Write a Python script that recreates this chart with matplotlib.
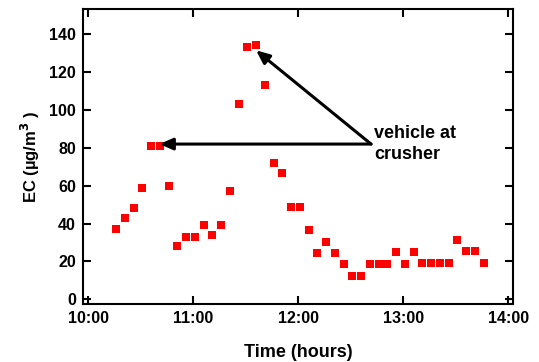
import matplotlib
matplotlib.use('Agg')
import matplotlib.pyplot as plt

plt.rcParams['font.family'] = ['Liberation Sans', 'DejaVu Sans']
plt.rcParams['font.weight'] = 'bold'

# Sample times (clock) and EC concentrations
times = ['10:16', '10:21', '10:26', '10:31', '10:36', '10:41', '10:46', '10:51',
         '10:56', '11:01', '11:06', '11:11', '11:16', '11:21', '11:26', '11:31',
         '11:36', '11:41', '11:46', '11:51', '11:56', '12:01', '12:06', '12:11',
         '12:16', '12:21', '12:26', '12:31', '12:36', '12:41', '12:46', '12:51',
         '12:56', '13:01', '13:06', '13:11', '13:16', '13:21', '13:26', '13:31',
         '13:36', '13:41', '13:46']
ec = [37, 43, 48, 59, 81, 81, 60, 28, 33, 33, 39, 34, 39, 57, 103, 133, 134.5,
      113, 72, 66.5, 49, 49, 36.5, 24.5, 30.5, 24.5, 18.5, 12.5, 12.5, 18.5, 18.5,
      18.5, 25, 18.5, 25, 19, 19, 19, 19, 31.5, 25.5, 25.5, 19]

x_ticks = [10, 11, 12, 13, 14]
x_labels = ['10:00', '11:00', '12:00', '13:00', '14:00']
y_ticks = [0, 20, 40, 60, 80, 100, 120, 140]

# annotation: text anchor and the two arrow heads (hours, EC)
label_text = 'vehicle at\ncrusher'
arrow_tail = (12.695, 82)
arrow_heads = [(10.68, 82), (11.6, 131.5)]


def to_hours(s):
    h, m = s.split(':')
    return int(h) + int(m) / 60.0


hours = [to_hours(t) for t in times]

fig = plt.figure(figsize=(5.39, 3.62), dpi=100)
ax = fig.add_axes([0.154, 0.160, 0.798, 0.815])

ax.plot(hours, ec, 's', color='#ff0000', markersize=5.8, markeredgewidth=0)

for head in arrow_heads:
    ax.annotate('', xy=head, xytext=arrow_tail,
                arrowprops=dict(arrowstyle='-|>,head_length=0.8,head_width=0.35',
                                color='black', lw=2.2, shrinkA=0, shrinkB=0))
ax.text(arrow_tail[0] + 0.03, arrow_tail[1], label_text, fontsize=13,
        fontweight='bold', ha='left', va='center', linespacing=1.3)

ax.set_xlim(9.952, 14.048)
ax.set_ylim(-2.5, 153.3)
ax.set_xticks(x_ticks)
ax.set_xticklabels(x_labels)
ax.set_yticks(y_ticks)

ax.tick_params(direction='in', length=6, width=1.5, top=True, right=True,
               labelsize=11.5, pad=5)
for lab in ax.get_xticklabels() + ax.get_yticklabels():
    lab.set_fontweight('bold')
for sp in ax.spines.values():
    sp.set_linewidth(1.5)

ax.set_xlabel('Time (hours)', fontsize=13, fontweight='bold', labelpad=13)
ax.set_ylabel('EC (µg/m$^{\\mathbf{3}}$ )', fontsize=12, fontweight='bold', labelpad=5)

fig.savefig('out.png', dpi=100)
